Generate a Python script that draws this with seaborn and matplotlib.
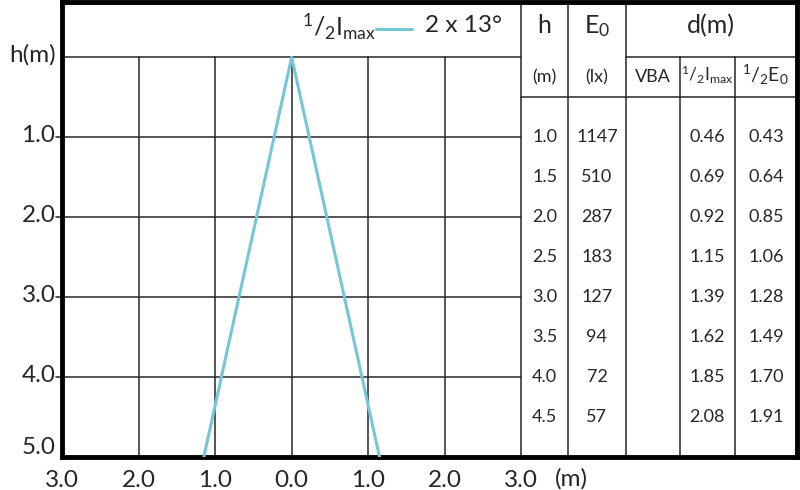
import matplotlib
matplotlib.use("Agg")
import matplotlib.pyplot as plt
import matplotlib.transforms as mtransforms
import seaborn as sns
import pandas as pd

# cone of the half-intensity beam (2 x 13 deg)
cone_x = [-1.15, 0.0, 1.15]
cone_h = [5.0, 0.0, 5.0]

# table values
heights = [1.0, 1.5, 2.0, 2.5, 3.0, 3.5, 4.0, 4.5]
e0_lux = [1147, 510, 287, 183, 127, 94, 72, 57]
d_half_imax = [0.46, 0.69, 0.92, 1.15, 1.39, 1.62, 1.85, 2.08]
d_half_e0 = [0.43, 0.64, 0.85, 1.06, 1.28, 1.49, 1.70, 1.91]

x_ticks = [-3, -2, -1, 0, 1, 2, 3]
x_labels = ["3.0", "2.0", "1.0", "0.0", "1.0", "2.0", "3.0"]
y_ticks = [0, 1, 2, 3, 4, 5]
y_labels = ["h(m)", "1.0", "2.0", "3.0", "4.0", "5.0"]

sns.set_style("white")
plt.rcParams['font.family'] = ['Lato', 'DejaVu Sans']
plt.rcParams['mathtext.fontset'] = 'custom'
plt.rcParams['mathtext.rm'] = 'Lato'
plt.rcParams['mathtext.it'] = 'Lato'
plt.rcParams['mathtext.bf'] = 'Lato'

cyan = "#74c7d6"
grid_c = "#262626"
lw_grid = 1.1

fig = plt.figure(figsize=(8, 4.9), dpi=100)
ax = fig.add_axes([0.078, 0.067, 0.918, 0.929])

# column edges of the table (data coords)
c0, c1, c2, c3, c4, c5 = 3.0, 3.62, 4.37, 5.08, 5.80, 6.61
ytop = -0.69

# grid in the chart part
for x in [-2, -1, 0, 1, 2]:
    ax.plot([x, x], [0, 5], color=grid_c, lw=lw_grid, zorder=1)
for y in [1, 2, 3, 4]:
    ax.plot([-3.08, 3], [y, y], color=grid_c, lw=lw_grid, zorder=1, clip_on=False)
ax.plot([-3, 3], [0, 0], color=grid_c, lw=lw_grid, zorder=1)

# table lines
ax.plot([c0, c0], [ytop, 5], color=grid_c, lw=lw_grid)
ax.plot([c1, c1], [ytop, 5], color=grid_c, lw=lw_grid)
ax.plot([c2, c2], [ytop, 5], color=grid_c, lw=lw_grid)
ax.plot([c3, c3], [0, 5], color=grid_c, lw=lw_grid)
ax.plot([c4, c4], [0, 5], color=grid_c, lw=lw_grid)
ax.plot([c2, c5], [0, 0], color=grid_c, lw=lw_grid)
ax.plot([c0, c5], [0.5, 0.5], color=grid_c, lw=lw_grid)

# beam cone
cone = pd.DataFrame({"x": cone_x, "h": cone_h})
sns.lineplot(data=cone, x="x", y="h", sort=False, color=cyan, lw=2.2, ax=ax, zorder=3)

# legend text
ax.text(1.10, -0.38, r"$^{1}/_{2}\mathrm{I}_{\mathrm{max}}$", ha="right", va="center", fontsize=18)
ax.plot([1.10, 1.58], [-0.35, -0.35], color=cyan, lw=2.2)
ax.text(1.75, -0.39, "2 x 13°", ha="left", va="center", fontsize=17.5)

# table headers
ax.text((c0 + c1) / 2, -0.39, "h", ha="center", va="center", fontsize=18)
ax.text((c1 + c2) / 2, -0.39, r"E$_{0}$", ha="center", va="center", fontsize=18)
ax.text((c2 + c5) / 2, -0.39, "d(m)", ha="center", va="center", fontsize=18)
ax.text((c0 + c1) / 2, 0.25, "(m)", ha="center", va="center", fontsize=13)
ax.text((c1 + c2) / 2, 0.25, "(lx)", ha="center", va="center", fontsize=13)
ax.text((c2 + c3) / 2, 0.25, "VBA", ha="center", va="center", fontsize=13)
ax.text((c3 + c4) / 2, 0.22, r"$^{1}/_{2}\mathrm{I}_{\mathrm{max}}$", ha="center", va="center", fontsize=12.5)
ax.text((c4 + c5) / 2, 0.22, r"$^{1}/_{2}\mathrm{E}_{0}$", ha="center", va="center", fontsize=14)

# table rows
for h, e, di, de in zip(heights, e0_lux, d_half_imax, d_half_e0):
    ax.text((c0 + c1) / 2, h, f"{h:.1f}", ha="center", va="center", fontsize=13)
    ax.text((c1 + c2) / 2, h, f"{e}", ha="center", va="center", fontsize=13)
    ax.text((c3 + c4) / 2, h, f"{di:.2f}", ha="center", va="center", fontsize=13)
    ax.text((c4 + c5) / 2, h, f"{de:.2f}", ha="center", va="center", fontsize=13)

ax.set_xlim(-3, c5)
ax.set_ylim(5, ytop)
ax.set_xticks(x_ticks)
ax.set_xticklabels(x_labels, fontsize=17.5)
ax.set_yticks(y_ticks)
ax.set_yticklabels(y_labels, fontsize=17.5)
ax.tick_params(axis="x", length=0, pad=9)
ax.tick_params(axis="y", length=0, pad=5)
ax.text(3.45, 5.265, "(m)", ha="left", va="center", fontsize=17.5)
ax.set_xlabel("")
ax.set_ylabel("")

# y labels sit a little above their grid line, the last one more
for lab, t in zip(ax.get_yticklabels(), y_ticks):
    dy = 12 if t == 5 else 4
    lab.set_transform(lab.get_transform() + mtransforms.ScaledTranslation(0, dy / 100, fig.dpi_scale_trans))

for s in ax.spines.values():
    s.set_visible(True)
    s.set_color("black")
    s.set_linewidth(3.5)

fig.savefig("out.png", dpi=100)
